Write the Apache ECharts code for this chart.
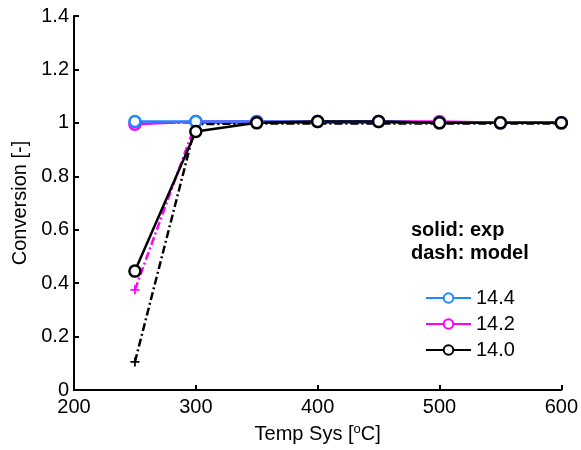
<!DOCTYPE html>
<html><head><meta charset="utf-8">
<script src="https://cdn.jsdelivr.net/npm/echarts@6/dist/echarts.min.js"></script>
<style>html,body{margin:0;padding:0;background:#fff}#c{width:581px;height:450px}</style>
</head><body><div id="c"></div>
<script>
var temps = [250, 300, 350, 400, 450, 500, 550, 600];
var exp144 = [1.005, 1.005, 1.005, 1.005, 1.005, 1.0, 1.0, 1.0];
var exp142 = [0.995, 1.005, 1.005, 1.005, 1.005, 1.005, 1.0, 1.0];
var exp140 = [0.445, 0.968, 1.0, 1.005, 1.005, 1.0, 1.0, 1.0];
var mod144 = [1.0, 1.0, 1.0, 1.0, 1.0, 1.0, 1.0, 1.0];
var mod142 = [0.375, 1.0, 1.0, 1.0, 1.0, 1.0, 1.0, 1.0];
var mod140 = [0.105, 0.995, 0.998, 0.998, 0.998, 0.998, 0.998, 0.998];
var legendNames = ['14.4', '14.2', '14.0'];
var colors = ['#1E88FF', '#FF00FF', '#000000'];

function pairs(v){ return temps.map(function(t,i){ return [t, v[i]]; }); }
var plus = 'path://M4,0 L6,0 L6,4 L10,4 L10,6 L6,6 L6,10 L4,10 L4,6 L0,6 L0,4 L4,4 Z';
var font = 'Liberation Sans, Arial, sans-serif';

function expSeries(name, v, c){
  return {name:name, type:'line', data:pairs(v), symbol:'circle', symbolSize:11, showSymbol:true,
    itemStyle:{color:'#fff', borderColor:c, borderWidth:2.5},
    lineStyle:{color:c, width:2.5}, animation:false, z:3};
}
function modSeries(name, v, c){
  return {name:name, type:'line', data:pairs(v), symbol:plus, symbolSize:9,
    itemStyle:{color:c}, lineStyle:{color:c, width:2.5, type:[8,3,2,3]}, animation:false, z:2};
}

var chart = echarts.init(document.getElementById('c'));
chart.setOption({
  backgroundColor:'#fff',
  grid:{left:74, right:19, top:16, bottom:60},
  xAxis:{type:'value', min:200, max:600, interval:100,
    axisLine:{lineStyle:{color:'#000', width:2}},
    axisTick:{inside:true, length:5, lineStyle:{color:'#000', width:2}},
    axisLabel:{color:'#000', fontSize:20, fontFamily:font, margin:7},
    splitLine:{show:false},
    name:'{a|Temp Sys [}{s|o}{a|C]}', nameLocation:'middle', nameGap:33,
    nameTextStyle:{rich:{a:{fontSize:20, fontFamily:font, color:'#000'}, s:{fontSize:13, fontFamily:font, color:'#000', verticalAlign:'top', padding:[0,0,9,0]}}}
  },
  yAxis:{type:'value', min:0, max:1.4, interval:0.2,
    axisLine:{show:true, lineStyle:{color:'#000', width:2}},
    axisTick:{show:true, inside:true, length:5, lineStyle:{color:'#000', width:2}},
    axisLabel:{color:'#000', fontSize:20, fontFamily:font, margin:5,
      formatter:function(v){ return String(Math.round(v*10)/10); }},
    splitLine:{show:false},
    name:'Conversion [-]', nameLocation:'middle', nameGap:42,
    nameTextStyle:{color:'#000', fontSize:20, fontFamily:font}
  },
  legend:{data:legendNames, orient:'vertical', left:420, top:283, itemWidth:45, itemHeight:12, itemGap:6,
    textStyle:{color:'#000', fontSize:20, fontFamily:font}, selectedMode:false},
  graphic:[
    {type:'text', left:411, top:220, style:{text:'solid: exp', font:'bold 20px '+font, fill:'#000'}},
    {type:'text', left:411, top:243, style:{text:'dash: model', font:'bold 20px '+font, fill:'#000'}}
  ],
  series:[
    modSeries('m14.4', mod144, colors[0]),
    modSeries('m14.2', mod142, colors[1]),
    modSeries('m14.0', mod140, colors[2]),
    expSeries(legendNames[1], exp142, colors[1]),
    expSeries(legendNames[0], exp144, colors[0]),
    expSeries(legendNames[2], exp140, colors[2])
  ]
});
</script></body></html>
